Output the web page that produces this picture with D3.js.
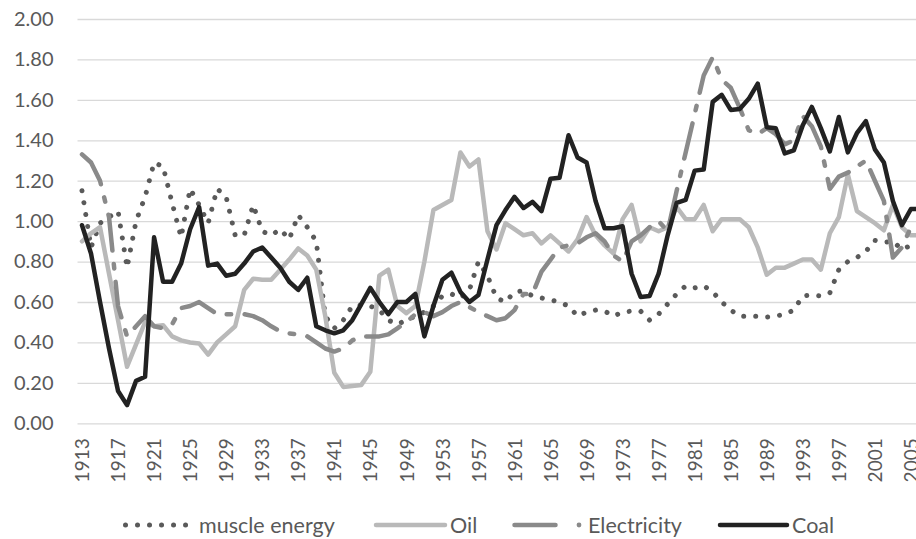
<!DOCTYPE html>
<html>
<head>
<meta charset="utf-8">
<script src="https://cdn.jsdelivr.net/npm/d3@7"></script>
<style>
  body { margin: 0; background: #fff; }
  svg { display: block; font-family: Lato, "Open Sans", sans-serif; }
</style>
</head>
<body>
<svg id="chart" width="916" height="539"></svg>
<script>
// years 1913..2006
const firstYear = 1913;

const muscleEnergy = [1.15, 0.87, 0.99, 1.02, 1.05, 0.77, 1.00, 1.12, 1.29, 1.27,
  1.09, 0.92, 1.16, 1.08, 0.99, 1.16, 1.12, 0.93, 0.93, 1.08,
  0.95, 0.93, 0.96, 0.91, 1.03, 0.97, 0.90, 0.53, 0.47, 0.51,
  0.58, 0.585, 0.58, 0.56, 0.51, 0.49, 0.51, 0.53, 0.55, 0.58,
  0.63, 0.64, 0.62, 0.66, 0.80, 0.73, 0.62, 0.60, 0.65, 0.655,
  0.63, 0.62, 0.61, 0.60, 0.58, 0.53, 0.55, 0.56, 0.555, 0.53,
  0.55, 0.555, 0.555, 0.51, 0.54, 0.59, 0.64, 0.68, 0.67, 0.68,
  0.65, 0.60, 0.56, 0.53, 0.53, 0.53, 0.525, 0.53, 0.54, 0.56,
  0.63, 0.635, 0.63, 0.645, 0.76, 0.80, 0.82, 0.85, 0.905, 0.895,
  0.90, 0.86, 0.88, 0.88];

const oil = [0.90, 0.94, 0.97, 0.74, 0.51, 0.28, 0.39, 0.50, 0.48, 0.485,
  0.43, 0.41, 0.40, 0.395, 0.34, 0.40, 0.44, 0.48, 0.66, 0.715,
  0.71, 0.71, 0.76, 0.81, 0.865, 0.83, 0.76, 0.53, 0.25, 0.18,
  0.185, 0.19, 0.255, 0.73, 0.76, 0.58, 0.545, 0.58, 0.80, 1.055,
  1.08, 1.105, 1.34, 1.27, 1.305, 0.95, 0.86, 0.99, 0.96, 0.93,
  0.94, 0.89, 0.93, 0.89, 0.85, 0.91, 1.02, 0.93, 0.88, 0.84,
  1.01, 1.08, 0.90, 0.97, 0.95, 0.97, 1.07, 1.01, 1.01, 1.08,
  0.95, 1.01, 1.01, 1.01, 0.97, 0.87, 0.735, 0.77, 0.77, 0.79,
  0.81, 0.81, 0.76, 0.94, 1.02, 1.23, 1.05, 1.02, 0.99, 0.955,
  1.08, 0.97, 0.93, 0.93];

const electricity = [1.33, 1.29, 1.20, 1.02, 0.58, 0.43, 0.48, 0.53, 0.48, 0.47,
  0.49, 0.57, 0.58, 0.60, 0.57, 0.54, 0.54, 0.54, 0.54, 0.53,
  0.51, 0.48, 0.455, 0.445, 0.44, 0.43, 0.40, 0.37, 0.355, 0.37,
  0.41, 0.43, 0.43, 0.43, 0.44, 0.47, 0.50, 0.54, 0.55, 0.53,
  0.55, 0.58, 0.60, 0.575, 0.55, 0.53, 0.51, 0.52, 0.56, 0.64,
  0.64, 0.75, 0.81, 0.87, 0.88, 0.89, 0.92, 0.94, 0.90, 0.83,
  0.80, 0.90, 0.93, 0.97, 1.00, 0.95, 1.15, 1.34, 1.53, 1.72,
  1.81, 1.70, 1.66, 1.56, 1.45, 1.43, 1.46, 1.43, 1.38, 1.40,
  1.52, 1.47, 1.37, 1.16, 1.22, 1.24, 1.27, 1.30, 1.20, 1.10,
  0.82, 0.87, 0.97, 0.95];

const coal = [0.98, 0.84, 0.60, 0.37, 0.16, 0.09, 0.21, 0.23, 0.92, 0.70,
  0.70, 0.79, 0.96, 1.07, 0.78, 0.79, 0.73, 0.74, 0.79, 0.85,
  0.87, 0.82, 0.77, 0.70, 0.66, 0.72, 0.48, 0.46, 0.445, 0.46,
  0.51, 0.59, 0.67, 0.60, 0.54, 0.60, 0.60, 0.64, 0.43, 0.58,
  0.71, 0.745, 0.65, 0.60, 0.635, 0.81, 0.98, 1.055, 1.12, 1.065,
  1.095, 1.05, 1.21, 1.215, 1.425, 1.315, 1.29, 1.10, 0.965, 0.965,
  0.975, 0.74, 0.625, 0.63, 0.74, 0.93, 1.09, 1.105, 1.25, 1.255,
  1.59, 1.625, 1.55, 1.555, 1.605, 1.68, 1.465, 1.46, 1.335, 1.35,
  1.475, 1.565, 1.46, 1.345, 1.515, 1.34, 1.435, 1.495, 1.355, 1.29,
  1.10, 0.98, 1.06, 1.06];

const yTicks = [0, 0.2, 0.4, 0.6, 0.8, 1.0, 1.2, 1.4, 1.6, 1.8, 2.0];
const labelYears = d3.range(1913, 2006, 4);

const series = [
  { name: 'muscle energy', values: muscleEnergy, color: '#5a5a5a', width: 5, dash: '0.01,12' },
  { name: 'Oil', values: oil, color: '#b9b9b9', width: 4.5, dash: null },
  { name: 'Electricity', values: electricity, color: '#8a8a8a', width: 4.5, dash: '36,13.5,4.5,13.5' },
  { name: 'Coal', values: coal, color: '#222222', width: 4.5, dash: null }
];

const svg = d3.select('#chart');
const plotLeft = 77.5, plotTop = 19, plotBottom = 423.3;
const step = 9.01;

const x = d3.scaleLinear()
  .domain([firstYear - 0.5, firstYear + 95.5])
  .range([plotLeft, plotLeft + 96 * step]);
const y = d3.scaleLinear().domain([0, 2]).range([plotBottom, plotTop]);

// gridlines + y labels
const yAxis = svg.append('g')
  .attr('transform', `translate(${plotLeft},0)`)
  .call(d3.axisLeft(y).tickValues(yTicks).tickFormat(d3.format('.2f'))
    .tickSize(-(96 * step)).tickPadding(24));
yAxis.select('.domain').remove();
yAxis.selectAll('line').attr('stroke', '#d9d9d9').attr('stroke-width', 1.3);
yAxis.selectAll('text').attr('fill', '#595959').style('font-size', '20px')
  .style('font-family', 'Lato, sans-serif');

// x labels
const xAxis = svg.append('g')
  .attr('transform', `translate(0,${plotBottom})`)
  .call(d3.axisBottom(x).tickValues(labelYears).tickFormat(d3.format('d')).tickSize(0));
xAxis.select('.domain').remove();
xAxis.selectAll('text')
  .attr('fill', '#595959')
  .style('font-size', '19px')
  .style('font-family', 'Lato, sans-serif')
  .attr('text-anchor', 'end')
  .attr('transform', 'translate(0,15) rotate(-90)')
  .attr('x', 0).attr('y', 0).attr('dy', '0.35em');

// series lines
const line = d3.line()
  .x((d, i) => x(firstYear + i))
  .y(d => y(d));

series.forEach(s => {
  svg.append('path')
    .datum(s.values)
    .attr('d', line)
    .attr('fill', 'none')
    .attr('stroke', s.color)
    .attr('stroke-width', s.width)
    .attr('stroke-linejoin', 'round')
    .attr('stroke-linecap', 'round')
    .attr('stroke-dasharray', s.dash);
});

// legend
const legY = 525;
const leg = svg.append('g');
// muscle energy
leg.append('line').attr('x1', 125.5).attr('x2', 186).attr('y1', legY).attr('y2', legY)
  .attr('stroke', series[0].color).attr('stroke-width', 5)
  .attr('stroke-linecap', 'round').attr('stroke-dasharray', '0.01,12');
// oil
leg.append('line').attr('x1', 376).attr('x2', 445).attr('y1', legY).attr('y2', legY)
  .attr('stroke', series[1].color).attr('stroke-width', 4.5).attr('stroke-linecap', 'round');
// electricity
leg.append('line').attr('x1', 514.5).attr('x2', 555.5).attr('y1', legY).attr('y2', legY)
  .attr('stroke', series[2].color).attr('stroke-width', 4.5).attr('stroke-linecap', 'round');
leg.append('circle').attr('cx', 579).attr('cy', legY).attr('r', 2.4).attr('fill', series[2].color);
// coal
leg.append('line').attr('x1', 720).attr('x2', 787).attr('y1', legY).attr('y2', legY)
  .attr('stroke', series[3].color).attr('stroke-width', 4.5).attr('stroke-linecap', 'round');

const legText = [
  { t: 'muscle energy', x: 199 },
  { t: 'Oil', x: 450 },
  { t: 'Electricity', x: 588 },
  { t: 'Coal', x: 792 }
];
leg.selectAll('text.lt').data(legText).enter().append('text')
  .attr('class', 'lt')
  .attr('x', d => d.x).attr('y', legY)
  .attr('dy', '0.35em')
  .attr('fill', '#595959')
  .style('font-size', '21.5px')
  .text(d => d.t);
</script>
</body>
</html>
